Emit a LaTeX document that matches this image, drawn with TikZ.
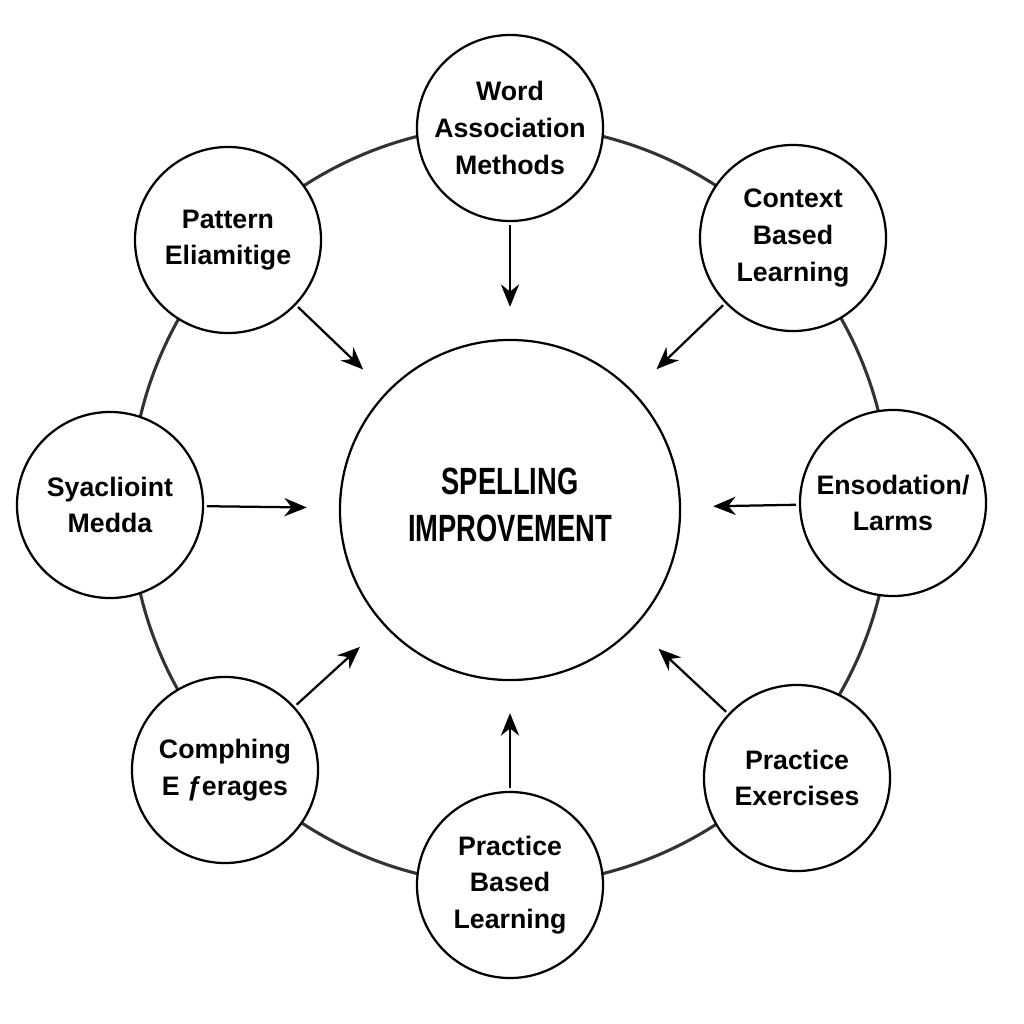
\documentclass[tikz,border=0pt]{standalone}
\usepackage{fontspec}
\setmainfont{Liberation Sans}
\usetikzlibrary{arrows.meta}
\begin{document}
\begin{tikzpicture}[
                x=0.025cm,y=-0.025cm,
                topic/.style={draw,line width=1.6pt,circle,fill=white,minimum size=4.65cm,inner sep=0pt,
                    align=center,font=\bfseries\fontsize{19}{26}\selectfont},
                hub/.style={draw,line width=1.6pt,circle,minimum size=8.5cm},
                arr/.style={-{Stealth[length=16pt,width=13pt]},line width=1.6pt,shorten <=2pt,shorten >=0.8cm}
            ]
                \useasboundingbox (0,0) rectangle (1024,1024);

                \draw[line width=2.2pt,black!80] (510,505) circle (380);

                \node[hub] (hub) at (510,510) {};
                \node[xscale=0.72,font=\bfseries\fontsize{27}{33}\selectfont,align=center] (hubtext) at (510,505) {SPELLING\\IMPROVEMENT};

                \foreach \x/\y/\name/\txt in {
                    510/128/word/{Word\\Association\\Methods},
                    793/238/context/{Context\\Based\\Learning},
                    893/503/enso/{Ensodation/\\Larms},
                    797/778/practice/{Practice\\Exercises},
                    510/885/pbased/{Practice\\Based\\Learning},
                    225/770/comph/{Comphing\\E ƒerages},
                    110/505/syacl/{Syaclioint\\Medda},
                    228/240/pattern/{Pattern\\Eliamitige}} {
                    \node[topic] (\name) at (\x,\y) {\txt};
                    \draw[arr] (\name) -- (hub);
                }
            \end{tikzpicture}
\end{document}
